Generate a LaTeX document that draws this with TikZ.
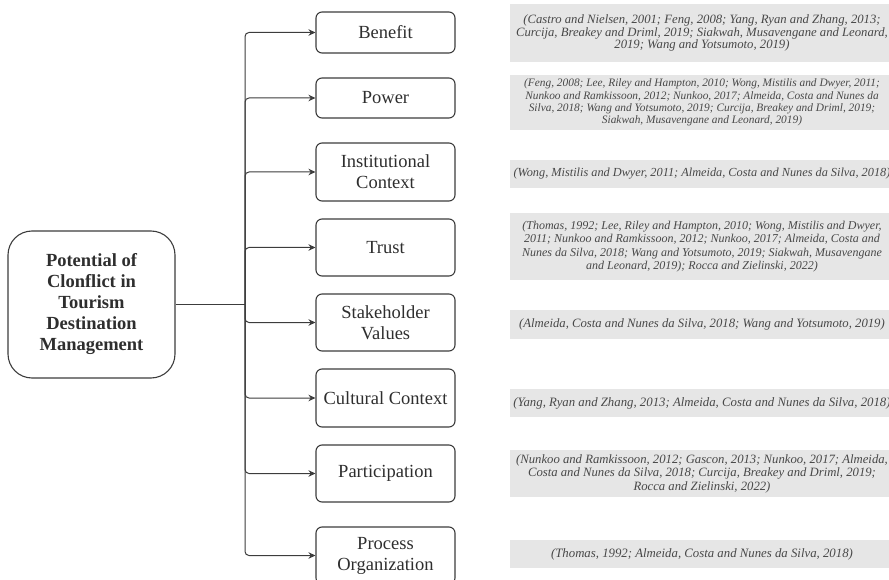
\documentclass[tikz,border=0pt]{standalone}
\usepackage{fontspec}
\setmainfont{Liberation Serif}
\usetikzlibrary{arrows.meta}
\definecolor{edge}{HTML}{3C3C3C}
\definecolor{ink}{HTML}{2E2E2E}
\definecolor{citefill}{HTML}{E6E6E6}
\definecolor{citeink}{HTML}{484848}
\tikzset{
  factor/.style={draw=edge, line width=1.1pt, rounded corners=6pt, text=ink,
    minimum width=139pt, inner sep=0pt, align=center,
    font=\fontsize{18.5}{21}\selectfont},
  rootbox/.style={draw=edge, line width=1.1pt, rounded corners=24pt, text=ink,
    minimum width=167pt, minimum height=147pt, inner sep=0pt, align=center,
    font=\bfseries\fontsize{18.5}{21}\selectfont},
  citebox/.style={fill=citefill, text=citeink, minimum width=384pt,
    inner sep=0pt, align=center},
  link/.style={draw=edge, line width=1pt, rounded corners=4pt,
    -{Stealth[length=7pt,width=6.5pt]}},
}
\begin{document}
\begin{tikzpicture}[x=1pt,y=-1pt]
  \useasboundingbox (0,0) rectangle (889,580);
  \clip (0,0) rectangle (889,580);

  % central concept
  \node[rootbox] (root) at (91.5,304.5)
    {Potential of\\Clonflict in\\Tourism\\Destination\\Management};

  % factors
  \node[factor, minimum height=41pt] (benefit) at (385.5,32.5) {Benefit};
  \node[factor, minimum height=40pt] (power) at (385.5,98) {Power};
  \node[factor, minimum height=58pt] (inst) at (385.5,172) {Institutional\\Context};
  \node[factor, minimum height=57pt] (trust) at (385.5,247.5) {Trust};
  \node[factor, minimum height=57pt] (stake) at (385.5,322.5) {Stakeholder\\Values};
  \node[factor, minimum height=58pt] (cult) at (385.5,398) {Cultural Context};
  \node[factor, minimum height=57pt] (part) at (385.5,473.5) {Participation};
  \node[factor, minimum height=57pt] (proc) at (385.5,555.5) {Process\\Organization};

  % references for each factor
  \node[citebox, minimum height=58pt, font=\itshape\fontsize{12.7}{12.9}\selectfont] (cbenefit) at (702,33)
    {(Castro and Nielsen, 2001; Feng, 2008; Yang, Ryan and Zhang, 2013;\\
     Curcija, Breakey and Driml, 2019; Siakwah, Musavengane and Leonard,\\
     2019; Wang and Yotsumoto, 2019)};
  \node[citebox, minimum height=55pt, font=\itshape\fontsize{11.35}{12.2}\selectfont] (cpower) at (702,102.5)
    {(Feng, 2008; Lee, Riley and Hampton, 2010; Wong, Mistilis and Dwyer, 2011;\\
     Nunkoo and Ramkissoon, 2012; Nunkoo, 2017; Almeida, Costa and Nunes da\\
     Silva, 2018; Wang and Yotsumoto, 2019; Curcija, Breakey and Driml, 2019;\\
     Siakwah, Musavengane and Leonard, 2019)};
  \node[citebox, minimum height=28pt, font=\itshape\fontsize{12.3}{13}\selectfont] (cinst) at (702,174)
    {(Wong, Mistilis and Dwyer, 2011; Almeida, Costa and Nunes da Silva, 2018)};
  \node[citebox, minimum height=67pt, font=\itshape\fontsize{12}{13.3}\selectfont] (ctrust) at (702,246.5)
    {(Thomas, 1992; Lee, Riley and Hampton, 2010; Wong, Mistilis and Dwyer,\\
     2011; Nunkoo and Ramkissoon, 2012; Nunkoo, 2017; Almeida, Costa and\\
     Nunes da Silva, 2018; Wang and Yotsumoto, 2019; Siakwah, Musavengane\\
     and Leonard, 2019); Rocca and Zielinski, 2022)};
  \node[citebox, minimum height=29pt, font=\itshape\fontsize{12.7}{13}\selectfont] (cstake) at (702,324.5)
    {(Almeida, Costa and Nunes da Silva, 2018; Wang and Yotsumoto, 2019)};
  \node[citebox, minimum height=28pt, font=\itshape\fontsize{12.8}{13}\selectfont] (ccult) at (702,403)
    {(Yang, Ryan and Zhang, 2013; Almeida, Costa and Nunes da Silva, 2018)};
  \node[citebox, minimum height=47pt, font=\itshape\fontsize{12.7}{13.5}\selectfont] (cpart) at (702,473.5)
    {(Nunkoo and Ramkissoon, 2012; Gascon, 2013; Nunkoo, 2017; Almeida,\\
     Costa and Nunes da Silva, 2018; Curcija, Breakey and Driml, 2019;\\
     Rocca and Zielinski, 2022)};
  \node[citebox, minimum height=28pt, font=\itshape\fontsize{12.8}{13}\selectfont] (cproc) at (702,554)
    {(Thomas, 1992; Almeida, Costa and Nunes da Silva, 2018)};

  % connectors: root to the trunk, trunk to every factor
  \coordinate (hub) at (245,304.5);
  \draw[draw=edge, line width=1pt] (root.east) -- (hub);
  \foreach \f in {benefit,power,inst,trust,stake,cult,part,proc}
    \draw[link] (hub) |- (\f.west);
\end{tikzpicture}
\end{document}
